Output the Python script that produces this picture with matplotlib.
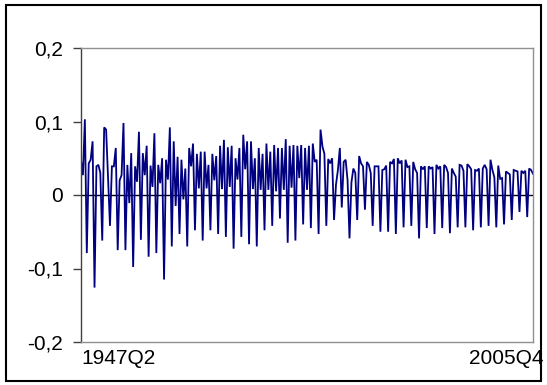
import matplotlib
matplotlib.use("Agg")
import matplotlib.pyplot as plt
import matplotlib.patches as patches
from matplotlib.ticker import FuncFormatter
from matplotlib.transforms import ScaledTranslation

# quarterly values, 1947Q2 .. 2005Q4 (Q1 is the seasonal dip)
y1947_49 = [0.048, 0.027, 0.103,
            -0.079, 0.043, 0.048, 0.073,
            -0.126, 0.039, 0.041, 0.030]
y1950s = [-0.062, 0.092, 0.089, 0.025,
          -0.042, 0.039, 0.039, 0.064,
          -0.075, 0.020, 0.027, 0.098,
          -0.075, 0.041, -0.011, 0.057,
          -0.098, 0.039, 0.018, 0.086,
          -0.061, 0.057, 0.027, 0.067,
          -0.084, 0.040, 0.011, 0.084,
          -0.079, 0.041, 0.016, 0.050,
          -0.115, 0.048, 0.021, 0.092,
          -0.070, 0.073, -0.015, 0.052]
y1960s = [-0.053, 0.048, -0.006, 0.036,
          -0.070, 0.064, 0.039, 0.070,
          -0.048, 0.056, 0.009, 0.059,
          -0.062, 0.059, 0.009, 0.041,
          -0.048, 0.056, 0.020, 0.053,
          -0.053, 0.067, 0.008, 0.075,
          -0.057, 0.065, 0.011, 0.067,
          -0.073, 0.050, 0.021, 0.064,
          -0.057, 0.082, 0.035, 0.073,
          -0.067, 0.073, 0.008, 0.050]
y1970s = [-0.070, 0.064, 0.007, 0.056,
          -0.048, 0.070, 0.007, 0.059,
          -0.042, 0.068, 0.005, 0.064,
          -0.032, 0.064, 0.007, 0.076,
          -0.065, 0.067, 0.010, 0.068,
          -0.062, 0.067, 0.023, 0.068,
          -0.040, 0.064, 0.007, 0.067,
          -0.045, 0.070, 0.045, 0.048,
          -0.053, 0.089, 0.066, 0.056,
          -0.042, 0.049, 0.043, 0.050]
y1980s = [-0.034, 0.014, 0.034, 0.064,
          -0.017, 0.045, 0.048, 0.020,
          -0.059, 0.017, 0.036, 0.030,
          -0.034, 0.053, 0.043, 0.039,
          -0.020, 0.045, 0.041, 0.030,
          -0.042, 0.039, 0.039, 0.039,
          -0.050, 0.034, 0.035, 0.040,
          -0.050, 0.045, 0.043, 0.049,
          -0.053, 0.050, 0.043, 0.047,
          -0.044, 0.048, 0.038, 0.039]
y1990s = [-0.042, 0.045, 0.035, 0.030,
          -0.059, 0.039, 0.035, 0.039,
          -0.045, 0.039, 0.036, 0.038,
          -0.053, 0.041, 0.036, 0.039,
          -0.045, 0.041, 0.038, 0.030,
          -0.052, 0.036, 0.030, 0.025,
          -0.044, 0.041, 0.040, 0.033,
          -0.044, 0.042, 0.039, 0.035,
          -0.048, 0.034, 0.033, 0.036,
          -0.044, 0.036, 0.041, 0.035]
y2000s = [-0.042, 0.048, 0.034, 0.024,
          -0.044, 0.040, 0.022, 0.023,
          -0.040, 0.032, 0.030, 0.028,
          -0.034, 0.034, 0.033, 0.032,
          -0.023, 0.033, 0.030, 0.033,
          -0.030, 0.036, 0.034, 0.029]

x_labels = ["1947Q2", "2005Q4"]
y_ticks = [-0.2, -0.1, 0, 0.1, 0.2]

values = y1947_49 + y1950s + y1960s + y1970s + y1980s + y1990s + y2000s
xs = list(range(len(values)))

plt.rcParams['font.family'] = ['Liberation Sans', 'DejaVu Sans']

fig = plt.figure(figsize=(5.47, 3.85), dpi=100, facecolor='white')
ax = fig.add_axes([81/547, 1-342/385, (533-81)/547, (342-48)/385])

ax.plot(xs, values, color='#000080', lw=1.3, solid_joinstyle='miter')
ax.axhline(0, color='black', lw=1.0, zorder=1)

ax.set_xlim(0, len(values)-1)
ax.set_ylim(-0.2, 0.2)
ax.set_yticks(y_ticks)
ax.yaxis.set_major_formatter(FuncFormatter(lambda v, p: "0" if abs(v) < 1e-9 else ("%.1f" % v).replace(".", ",")))
ax.tick_params(axis='y', direction='out', length=6, width=1, color='#404040', labelsize=15, pad=7)

ax.set_xticks([0, len(values)-1])
ax.set_xticklabels(x_labels)
ax.tick_params(axis='x', length=0, labelsize=15, pad=5)
lbls = ax.get_xticklabels()
lbls[0].set_horizontalalignment('left')
lbls[1].set_horizontalalignment('right')
lbls[1].set_transform(lbls[1].get_transform() + ScaledTranslation(10/100, 0, fig.dpi_scale_trans))

ax.spines['left'].set_color('#404040')
for s in ['top', 'right', 'bottom']:
    ax.spines[s].set_color('#909090')
for s in ax.spines.values():
    s.set_linewidth(1.0)

# outer frame
fig.patches.append(patches.Rectangle((5.5/547, 4.5/385), 535/547, 375.5/385,
                                     transform=fig.transFigure, fill=False,
                                     edgecolor='black', lw=1.5))

fig.savefig("out.png", dpi=100)
